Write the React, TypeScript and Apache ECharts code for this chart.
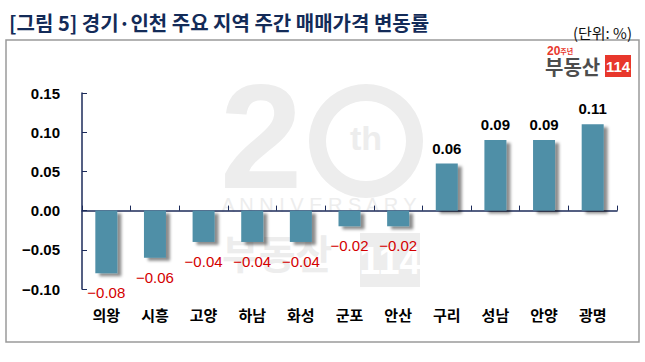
import React, { useEffect, useRef } from "react";
import * as echarts from "echarts";

const categories = ["의왕", "시흥", "고양", "하남", "화성", "군포", "안산", "구리", "성남", "안양", "광명"];
const changes = [-0.08, -0.06, -0.04, -0.04, -0.04, -0.02, -0.02, 0.06, 0.09, 0.09, 0.11];
const yMin = -0.1;
const yMax = 0.15;
const yStep = 0.05;
const titleText = "[그림 5] 경기·인천 주요 지역 주간 매매가격 변동률";
const unitText = "(단위: %)";

const fmt = (v: number) => (v < 0 ? "\u2212" : "") + Math.abs(v).toFixed(2);

const NAVY = "#1c2b5a";
const KR = "'Noto Sans CJK KR', 'Noto Sans', sans-serif";
const NUM = "'Liberation Sans', Arial, sans-serif";
const WM = "#ededed";

export default function App() {
  const ref = useRef<HTMLDivElement>(null);
  useEffect(() => {
    if (!ref.current) return;
    const chart = echarts.init(ref.current, null, { renderer: "svg" });
    const data = changes.map((v) => ({
      value: v,
      label:
        v < 0
          ? { position: "bottom", distance: 12, color: "#d40000", fontWeight: "normal" }
          : { position: "top", distance: 8, color: "#000", fontWeight: "bold" },
    }));
    chart.setOption({
      animation: false,
      backgroundColor: "#fff",
      title: [
        {
          text: titleText,
          left: 4,
          top: 7,
          textStyle: { fontFamily: KR, fontSize: 20, fontWeight: "bold", color: "#132b58" },
        },
        {
          text: unitText,
          right: 8,
          top: 20,
          textStyle: { fontFamily: KR, fontSize: 15, fontWeight: "normal", color: "#111" },
        },
      ],
      grid: { left: 82, right: 28, top: 93, bottom: 73 },
      graphic: [
        {
          type: "rect",
          z: -30,
          shape: { x: 6, y: 40, width: 633, height: 302 },
          style: { fill: "none", stroke: "#9a9a9a", lineWidth: 1.5 },
        },
        // watermark
        {
          type: "text",
          z: -20,
          silent: true,
          x: 220,
          y: 62,
          style: { text: "2", font: "bold 148px 'Liberation Sans', Arial", fill: WM },
        },
        {
          type: "ring",
          z: -20,
          silent: true,
          shape: { cx: 366, cy: 141, r: 57, r0: 40 },
          style: { fill: WM },
        },
        {
          type: "text",
          z: -20,
          silent: true,
          x: 366,
          y: 138,
          style: {
            text: "th",
            font: "bold 34px 'Liberation Sans', Arial",
            fill: WM,
            align: "center",
            verticalAlign: "middle",
          },
        },
        {
          type: "text",
          z: -20,
          silent: true,
          x: 319,
          y: 205,
          style: {
            text: "A N N I V E R S A R Y",
            font: "20px 'Liberation Sans', Arial",
            fill: WM,
            align: "center",
            verticalAlign: "middle",
          },
        },
        {
          type: "text",
          z: -20,
          silent: true,
          x: 222,
          y: 232,
          style: { text: "부동산", font: "bold 40px 'Noto Sans CJK KR'", fill: WM },
        },
        {
          type: "rect",
          z: -20,
          silent: true,
          shape: { x: 360, y: 233, width: 60, height: 54 },
          style: { fill: WM },
        },
        {
          type: "text",
          z: -19,
          silent: true,
          x: 390,
          y: 261,
          style: {
            text: "114",
            font: "bold 38px 'Liberation Sans', Arial",
            fill: "#fff",
            align: "center",
            verticalAlign: "middle",
          },
        },
        // logo top-right
        {
          type: "text",
          x: 547,
          y: 45,
          style: {
            text: "{a|20}{b|주년}",
            rich: {
              a: { fontSize: 12, fontWeight: "bold", fill: "#e8372c", fontFamily: NUM },
              b: { fontSize: 7, fontWeight: "bold", fill: "#e8372c", fontFamily: KR },
            },
          },
        },
        {
          type: "text",
          x: 545,
          y: 56,
          style: { text: "부동산", font: "bold 20px 'Noto Sans CJK KR'", fill: "#4d4d4d" },
        },
        {
          type: "rect",
          shape: { x: 605, y: 55, width: 26, height: 22 },
          style: { fill: "#e8372c" },
        },
        {
          type: "text",
          x: 618,
          y: 66.5,
          style: {
            text: "114",
            font: "bold 15px 'Liberation Sans', Arial",
            fill: "#fff",
            align: "center",
            verticalAlign: "middle",
          },
        },
      ],
      xAxis: [
        {
          type: "category",
          data: categories,
          position: "bottom",
          axisLine: { show: false, onZero: false },
          axisTick: { show: false },
          axisLabel: {
            margin: 18,
            fontFamily: KR,
            fontSize: 15,
            fontWeight: "bold",
            color: "#000",
          },
        },
        {
          type: "category",
          data: categories,
          position: "top",
          axisLine: { show: true, onZero: true, lineStyle: { color: NAVY, width: 1.5 } },
          axisTick: { show: true, inside: false, length: 5, lineStyle: { color: NAVY, width: 1 } },
          axisLabel: { show: false },
        },
      ],
      yAxis: {
        type: "value",
        min: yMin,
        max: yMax,
        interval: yStep,
        axisLine: { show: true, lineStyle: { color: NAVY, width: 1.5 } },
        axisTick: { show: true, inside: true, length: 5, lineStyle: { color: NAVY } },
        splitLine: { show: false },
        axisLabel: {
          margin: 22,
          fontFamily: NUM,
          fontSize: 15,
          fontWeight: "bold",
          color: "#000",
          formatter: (v: number) => fmt(Math.round(v * 100) / 100),
        },
      },
      series: [
        {
          type: "bar",
          xAxisIndex: 0,
          data,
          barWidth: 22,
          itemStyle: {
            color: "#4f8fa7",
            shadowColor: "rgba(0,0,0,0.45)",
            shadowBlur: 3,
            shadowOffsetX: 4,
            shadowOffsetY: 3,
          },
          label: {
            show: true,
            fontFamily: NUM,
            fontSize: 15,
            formatter: (p: any) => fmt(p.value),
          },
        },
      ],
    });
    return () => chart.dispose();
  }, []);
  return (
    <div
      ref={ref}
      style={{ position: "absolute", left: 0, top: 0, width: 645, height: 362, background: "#fff" }}
    />
  );
}
